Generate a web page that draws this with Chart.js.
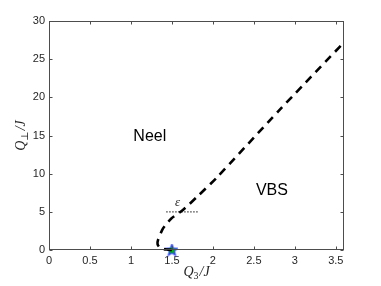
<!DOCTYPE html>
<html lang="en">
<head>
    <meta charset="UTF-8">
    <title>Phase diagram</title>
    <script src="https://cdn.jsdelivr.net/npm/chart.js"></script>
    <style>
        html, body { margin: 0; padding: 0; background: #fff; }
        #wrap { width: 381px; height: 286px; }
    </style>
</head>
<body>
    <div id="wrap"><canvas id="myChart" width="381" height="286"></canvas></div>

    <script>
        // phase boundary (dashed)
        const q3 = [1.50, 1.45, 1.40, 1.35, 1.325, 1.33, 1.39, 1.49, 1.63, 1.80, 2.04, 2.80, 3.60];
        const qPerp = [0, 0.05, 0.12, 0.35, 0.75, 1.3, 2.8, 4.1, 5.2, 6.9, 9.4, 18.2, 27.2];

        // epsilon cut (dotted)
        const epsX = [1.43, 1.83];
        const epsY = [5, 5];

        // special point (star)
        const starX = [1.5];
        const starY = [0];

        const xTicks = [0, 0.5, 1, 1.5, 2, 2.5, 3, 3.5];
        const yTicks = [0, 5, 10, 15, 20, 25, 30];

        function toPoints(xs, ys) {
            return xs.map((x, i) => ({ x: x, y: ys[i] }));
        }

        // filled five-point star for the marker
        function makeStar() {
            const c = document.createElement('canvas');
            c.width = 13; c.height = 13;
            const g = c.getContext('2d');
            g.beginPath();
            for (let i = 0; i < 10; i++) {
                const r = i % 2 === 0 ? 6 : 2.6;
                const a = -Math.PI / 2 + i * Math.PI / 5;
                const px = 6.5 + r * Math.cos(a), py = 6.8 + r * Math.sin(a);
                if (i === 0) g.moveTo(px, py); else g.lineTo(px, py);
            }
            g.closePath();
            g.fillStyle = '#00c000';
            g.fill();
            g.strokeStyle = '#2a3cff';
            g.lineWidth = 1.2;
            g.stroke();
            return c;
        }

        const axisColor = '#4d4d4d';

        // box, inward ticks, annotations and math axis labels
        const decorPlugin = {
            id: 'decor',
            afterDraw(chart) {
                const ctx = chart.ctx;
                const a = chart.chartArea;
                const xs = chart.scales.x, ys = chart.scales.y;
                ctx.save();
                ctx.strokeStyle = axisColor;
                ctx.lineWidth = 1;
                const L = Math.round(a.left) + 0.5, R = Math.round(a.right) - 0.5;
                const T = Math.round(a.top) + 0.5, B = Math.round(a.bottom) - 0.5;
                ctx.strokeRect(L, T, R - L, B - T);
                ctx.beginPath();
                xTicks.forEach(v => {
                    const p = Math.round(xs.getPixelForValue(v)) + 0.5;
                    ctx.moveTo(p, B); ctx.lineTo(p, B - 3);
                    ctx.moveTo(p, T); ctx.lineTo(p, T + 3);
                });
                yTicks.forEach(v => {
                    const p = Math.round(ys.getPixelForValue(v)) + 0.5;
                    ctx.moveTo(L, p); ctx.lineTo(L + 3, p);
                    ctx.moveTo(R, p); ctx.lineTo(R - 3, p);
                });
                ctx.stroke();

                // region labels
                ctx.fillStyle = '#000';
                ctx.textAlign = 'center';
                ctx.textBaseline = 'middle';
                ctx.font = '16px "Liberation Sans", Arial, sans-serif';
                ctx.fillText('Neel', xs.getPixelForValue(1.23), ys.getPixelForValue(14.8));
                ctx.fillText('VBS', xs.getPixelForValue(2.72), ys.getPixelForValue(7.75));
                ctx.font = 'italic 13px "Liberation Serif", "DejaVu Serif", serif';
                ctx.fillStyle = '#262626';
                ctx.fillText('\u03b5', xs.getPixelForValue(1.57), ys.getPixelForValue(6.2));

                // x axis label  Q_3 / J
                drawMathLabel(ctx, (a.left + a.right) / 2, 271, '3', 0);
                // y axis label  Q_perp / J
                drawMathLabel(ctx, 20, (a.top + a.bottom) / 2, '\u22a5', -Math.PI / 2);
                ctx.restore();
            }
        };

        function drawMathLabel(ctx, cx, cy, sub, rot) {
            const big = 'italic 14px "Liberation Serif", "DejaVu Serif", serif';
            const small = '10px "Liberation Serif", "DejaVu Serif", serif';
            ctx.save();
            ctx.translate(cx, cy);
            ctx.rotate(rot);
            ctx.fillStyle = '#262626';
            ctx.textAlign = 'left';
            ctx.textBaseline = 'alphabetic';
            ctx.font = big;
            const wQ = ctx.measureText('Q').width;
            const wT = ctx.measureText('/J').width;
            ctx.font = small;
            const wS = ctx.measureText(sub).width;
            const total = wQ + wS + 1 + wT;
            let x = -total / 2;
            const base = 5;
            ctx.font = big;
            ctx.fillText('Q', x, base);
            x += wQ;
            ctx.font = small;
            ctx.fillText(sub, x, base + 3);
            x += wS + 1;
            ctx.font = big;
            ctx.fillText('/J', x, base);
            ctx.restore();
        }

        const tickFont = { family: '"Liberation Sans", Arial, sans-serif', size: 11 };

        const ctx = document.getElementById('myChart').getContext('2d');
        window.myChart = new Chart(ctx, {
            type: 'scatter',
            data: {
                datasets: [
                    {
                        label: 'boundary',
                        data: toPoints(q3, qPerp),
                        showLine: true,
                        borderColor: '#000',
                        borderWidth: 2.6,
                        borderDash: [8, 6],
                        pointRadius: 0,
                        tension: 0.2,
                        fill: false
                    },
                    {
                        label: 'epsilon',
                        data: toPoints(epsX, epsY),
                        showLine: true,
                        borderColor: '#444',
                        borderWidth: 1.3,
                        borderDash: [1.5, 1.5],
                        pointRadius: 0,
                        fill: false
                    },
                    {
                        label: 'star',
                        data: toPoints(starX, starY),
                        pointStyle: makeStar(),
                        pointRadius: 6
                    }
                ]
            },
            options: {
                responsive: false,
                animation: false,
                clip: false,
                layout: { padding: { top: 21, right: 37, left: 0, bottom: 0 } },
                plugins: {
                    legend: { display: false },
                    tooltip: { enabled: false }
                },
                scales: {
                    x: {
                        type: 'linear',
                        min: 0,
                        max: 3.6,
                        grid: { display: false, drawTicks: false },
                        border: { display: false },
                        afterBuildTicks: s => { s.ticks = xTicks.map(v => ({ value: v })); },
                        afterFit: s => { s.height = 36; },
                        ticks: {
                            color: '#262626',
                            font: tickFont,
                            padding: 4,
                            maxRotation: 0,
                            callback: v => String(v)
                        }
                    },
                    y: {
                        type: 'linear',
                        min: 0,
                        max: 30,
                        grid: { display: false, drawTicks: false },
                        border: { display: false },
                        afterBuildTicks: s => { s.ticks = yTicks.map(v => ({ value: v })); },
                        afterFit: s => { s.width = 49; },
                        ticks: {
                            color: '#262626',
                            font: tickFont,
                            padding: 4,
                            callback: v => String(v)
                        }
                    }
                }
            },
            plugins: [decorPlugin]
        });
    </script>
</body>
</html>
